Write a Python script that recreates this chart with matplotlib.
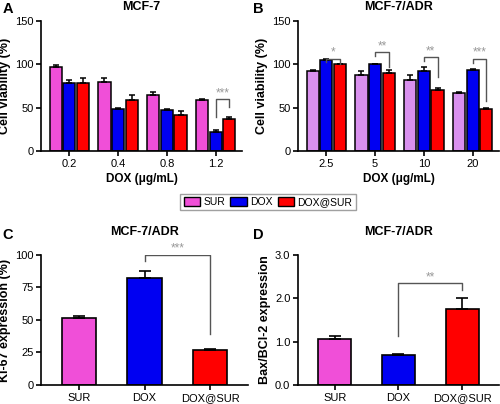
import numpy as np
import matplotlib
matplotlib.use('Agg')
import matplotlib.pyplot as plt
from matplotlib.patches import Patch

plt.rcParams['font.family'] = ['Liberation Sans', 'DejaVu Sans']

# data
groups = ['SUR', 'DOX', 'DOX@SUR']
conc_a = ['0.2', '0.4', '0.8', '1.2']
sur_a = [97, 80, 65, 58.5]
dox_a = [79, 49, 47, 22.5]
ds_a = [79, 59, 42, 37]
sur_a_err = [2, 4, 3, 1]
dox_a_err = [2.5, 0.5, 1, 1.5]
ds_a_err = [5, 6, 4, 2]

conc_b = ['2.5', '5', '10', '20']
sur_b = [92, 88, 82, 67]
dox_b = [105, 100, 92, 94]
ds_b = [100, 90, 71, 48]
sur_b_err = [1, 4, 6, 1.5]
dox_b_err = [1.5, 1, 5, 0.5]
ds_b_err = [0.5, 3, 2, 2]

ki67 = [51.5, 82, 27]
ki67_err = [1.5, 5.5, 0.3]
bax = [1.05, 0.70, 1.75]
bax_err = [0.09, 0.02, 0.25]

pink = '#F04FD8'
lav = '#D990EE'
blue = '#0000F2'
red = '#FF0000'
grey = '#555555'

fig = plt.figure(figsize=(5, 4.04), dpi=100)
axA = fig.add_axes([0.082, 0.626, 0.402, 0.322])
axB = fig.add_axes([0.596, 0.626, 0.402, 0.322])
axC = fig.add_axes([0.082, 0.047, 0.414, 0.322])
axD = fig.add_axes([0.596, 0.047, 0.402, 0.322])


def style(ax):
    for s in ['top', 'right']:
        ax.spines[s].set_visible(False)
    for s in ['left', 'bottom']:
        ax.spines[s].set_linewidth(1.2)
    ax.tick_params(width=1.2, length=3.5, labelsize=8, pad=2)


def grouped(ax, labels, series, errs, colors):
    x = np.arange(len(labels))
    off = [-0.28, 0, 0.28]
    for vals, e, c, o in zip(series, errs, colors, off):
        ax.bar(x + o, vals, 0.25, color=c, edgecolor='black', linewidth=1.1,
               yerr=[np.zeros(len(e)), e], capsize=2.5,
               error_kw=dict(elinewidth=1.1, capthick=1.1))
    ax.set_xticks(x)
    ax.set_xticklabels(labels)
    ax.set_xlim(-0.58, 3.54)
    ax.set_ylim(0, 150)
    ax.set_yticks([0, 50, 100, 150])
    ax.set_ylabel('Cell viability (%)', fontsize=9, fontweight='bold', labelpad=3)
    ax.set_xlabel('DOX (μg/mL)', fontsize=8.5, fontweight='bold', labelpad=3)
    style(ax)


def bracket(ax, x1, x2, top, l1, l2, text, fs=8.5):
    ax.plot([x1, x1, x2, x2], [l1, top, top, l2], color=grey, lw=1.0)
    ax.text((x1 + x2) / 2, top, text, ha='center', va='bottom',
            fontsize=fs, color='#999999')


grouped(axA, conc_a, [sur_a, dox_a, ds_a], [sur_a_err, dox_a_err, ds_a_err],
        [pink, blue, red])
axA.set_title('MCF-7', fontsize=9, fontweight='bold', pad=8)
bracket(axA, 3, 3.28, 60, 39, 51, '***')

grouped(axB, conc_b, [sur_b, dox_b, ds_b], [sur_b_err, dox_b_err, ds_b_err],
        [lav, blue, red])
axB.set_title('MCF-7/ADR', fontsize=9, fontweight='bold', pad=8)
bracket(axB, 0, 0.28, 106.5, 103, 101, '*')
bracket(axB, 1, 1.28, 114, 110, 97, '**')
bracket(axB, 2, 2.28, 108, 104, 85, '**')
bracket(axB, 3, 3.28, 106.5, 102, 58, '***')

# Ki-67
xc = np.arange(3)
axC.bar(xc, ki67, 0.52, color=[pink, blue, red], edgecolor='black', linewidth=1.2,
        yerr=[np.zeros(3), ki67_err], capsize=4,
        error_kw=dict(elinewidth=1.2, capthick=1.2))
axC.set_xticks(xc)
axC.set_xticklabels(groups)
axC.set_xlim(-0.58, 2.58)
axC.set_ylim(0, 100)
axC.set_yticks([0, 25, 50, 75, 100])
axC.set_ylabel('Ki-67 expression (%)', fontsize=9, fontweight='bold', labelpad=3)
axC.set_title('MCF-7/ADR', fontsize=9, fontweight='bold', pad=14)
style(axC)
bracket(axC, 1, 2, 100, 95, 39, '***')

# Bax/Bcl-2
axD.bar(xc, bax, 0.52, color=[pink, blue, red], edgecolor='black', linewidth=1.2,
        yerr=[np.zeros(3), bax_err], capsize=4,
        error_kw=dict(elinewidth=1.2, capthick=1.2))
axD.set_xticks(xc)
axD.set_xticklabels(groups)
axD.set_xlim(-0.58, 2.58)
axD.set_ylim(0, 3.0)
axD.set_yticks([0, 1, 2, 3])
axD.set_yticklabels(['0.0', '1.0', '2.0', '3.0'])
axD.set_ylabel('Bax/BCl-2 expression', fontsize=9, fontweight='bold', labelpad=3)
axD.set_title('MCF-7/ADR', fontsize=9, fontweight='bold', pad=14)
style(axD)
bracket(axD, 1, 2, 2.35, 1.12, 2.19, '**')

# panel letters
for lab, (x, y) in zip('ABCD', [(0.005, 0.978), (0.505, 0.978), (0.005, 0.418), (0.505, 0.418)]):
    fig.text(x, y, lab, fontsize=10.5, fontweight='bold', va='center')

handles = [Patch(facecolor=c, edgecolor='black', linewidth=1.0) for c in [pink, blue, red]]
fig.legend(handles, groups, loc='center', bbox_to_anchor=(0.536, 0.5), ncol=3,
           fontsize=7.5, frameon=True, fancybox=False, edgecolor='#888888',
           handlelength=1.6, handleheight=0.9, handletextpad=0.3, columnspacing=0.5,
           borderpad=0.3)

fig.savefig('out.png', dpi=100)
